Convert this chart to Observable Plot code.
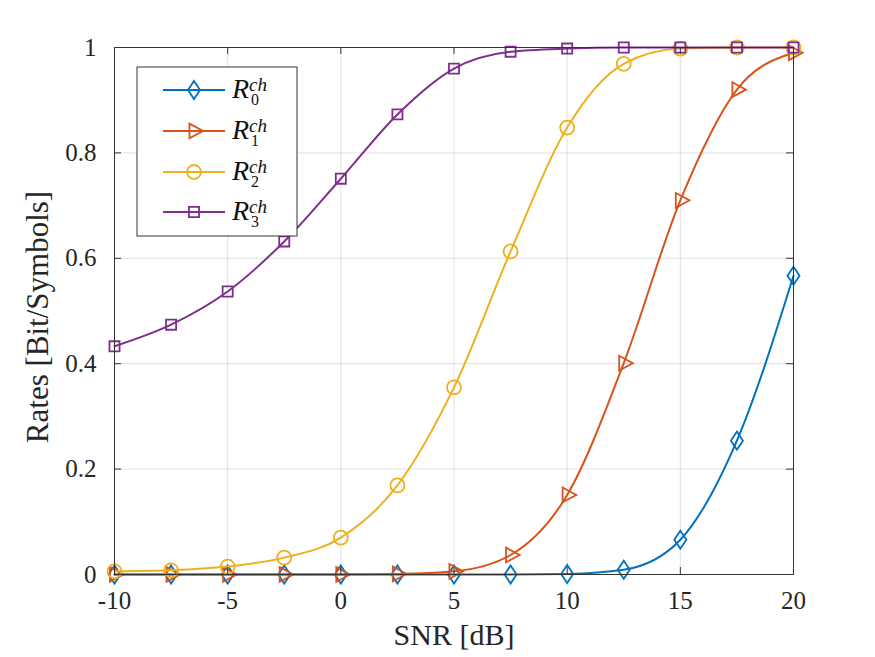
<!DOCTYPE html>
<html><head><meta charset="utf-8">
<script src="https://cdn.jsdelivr.net/npm/d3@7"></script>
<script src="https://cdn.jsdelivr.net/npm/@observablehq/plot@0.6"></script>
<style>body{margin:0;background:#fff}#chart{width:875px;height:657px}
#chart svg, #chart svg text{font-family:"Liberation Serif","Times New Roman",Times,"DejaVu Serif","Noto Serif",serif !important}</style>
</head><body><div id="chart"></div>
<script>
// ---- data ----
const snr = [-10, -7.5, -5, -2.5, 0, 2.5, 5, 7.5, 10, 12.5, 15, 17.5, 20];
const r0 = [0, 0, 0, 0, 0, 0, 0, 0, 0.001, 0.009, 0.066, 0.254, 0.567];
const r1 = [0, 0, 0, 0, 0, 0.001, 0.006, 0.037, 0.151, 0.401, 0.710, 0.920, 0.990];
const r2 = [0.006, 0.008, 0.015, 0.032, 0.070, 0.169, 0.355, 0.613, 0.848, 0.969, 0.998, 1, 1];
const r3 = [0.433, 0.474, 0.537, 0.632, 0.751, 0.873, 0.960, 0.992, 0.998, 1, 1, 1, 1];
const seriesSub = ["0", "1", "2", "3"];
const seriesSup = "ch";
const xTicks = [-10, -5, 0, 5, 10, 15, 20];
const yTicks = [0, 0.2, 0.4, 0.6, 0.8, 1];
const xLabel = "SNR [dB]";
const yLabel = "Rates [Bit/Symbols]";

// ---- styles ----
const colors = ["#0072BD", "#D95319", "#EDB120", "#7E2F8E"];
const font = "Liberation Serif, Times New Roman, Times, DejaVu Serif, serif";
const axisColor = "#333";
const W = 875, H = 657, mL = 114, mR = 82, mT = 47, mB = 83;
const innerW = W - mL - mR, innerH = H - mT - mB;
const tickLen = 7;

const rad = s => Math.sqrt(s / Math.PI);
const symDiamond = {draw(c, s) { const r = rad(s); c.moveTo(0, -1.29 * r); c.lineTo(0.86 * r, 0); c.lineTo(0, 1.29 * r); c.lineTo(-0.86 * r, 0); c.closePath(); }};
const symTriR = {draw(c, s) { const r = rad(s); c.moveTo(-0.65 * r, -1.05 * r); c.lineTo(1.3 * r, 0); c.lineTo(-0.65 * r, 1.05 * r); c.closePath(); }};
const symCircle = {draw(c, s) { const r = rad(s); c.moveTo(r, 0); c.arc(0, 0, r, 0, 2 * Math.PI); c.closePath(); }};
const symSquare = {draw(c, s) { const r = rad(s) * 0.72; c.rect(-r, -r, 2 * r, 2 * r); }};
const symbols = [symDiamond, symTriR, symCircle, symSquare];

const series = [r0, r1, r2, r3];
const rows = series.map((vals, i) => snr.map((x, j) => ({x, y: vals[j], s: i})));

const marks = [
  Plot.gridX(xTicks, {stroke: "#000", strokeOpacity: 0.12}),
  Plot.gridY(yTicks, {stroke: "#000", strokeOpacity: 0.12}),
];
rows.forEach((d, i) => {
  marks.push(Plot.line(d, {x: "x", y: "y", stroke: colors[i], strokeWidth: 2, curve: "monotone-x"}));
  marks.push(Plot.dot(d, {x: "x", y: "y", stroke: colors[i], fill: "none", strokeWidth: 1.8, r: 7, symbol: symbols[i]}));
});
marks.push(
  Plot.frame({stroke: axisColor, strokeWidth: 1}),
  Plot.ruleX(xTicks, {x: d => d, insetTop: innerH - tickLen, stroke: axisColor}),
  Plot.ruleX(xTicks, {x: d => d, insetBottom: innerH - tickLen, stroke: axisColor}),
  Plot.ruleY(yTicks, {y: d => d, insetRight: innerW - tickLen, stroke: axisColor}),
  Plot.ruleY(yTicks, {y: d => d, insetLeft: innerW - tickLen, stroke: axisColor}),
  Plot.axisX({ticks: xTicks, tickSize: 0, tickPadding: 17, tickFormat: d => String(d), label: null, fontSize: 25, fill: "#262626"}),
  Plot.axisY({ticks: yTicks, tickSize: 0, tickPadding: 18, tickFormat: d => String(d), label: null, fontSize: 25, fill: "#262626"}),
  Plot.text([xLabel], {frameAnchor: "bottom", textAnchor: "middle", dy: 61, lineAnchor: "middle", fontSize: 30, fill: "#262626"}),
  Plot.text([yLabel], {frameAnchor: "left", textAnchor: "middle", rotate: -90, dx: -76, dy: 6, lineAnchor: "middle", fontSize: 31, fill: "#262626"})
);

const chart = Plot.plot({
  width: W, height: H,
  marginLeft: mL, marginRight: mR, marginTop: mT, marginBottom: mB,
  x: {domain: [-10, 20]},
  y: {domain: [0, 1]},
  style: {fontFamily: font, background: "#fff", color: "#262626", overflow: "visible"},
  marks
});
document.getElementById("chart").appendChild(chart);

// ---- legend ----
const svg = d3.select(chart);
const lg = svg.append("g").attr("transform", "translate(137,67)").attr("text-anchor", "start");
lg.append("rect").attr("width", 160).attr("height", 169).attr("fill", "#fff").attr("stroke", axisColor).attr("stroke-width", 1);
const rowY = [23, 64, 105, 145];
seriesSub.forEach((sub, i) => {
  const y = rowY[i];
  lg.append("line").attr("x1", 26).attr("x2", 88).attr("y1", y).attr("y2", y).attr("stroke", colors[i]).attr("stroke-width", 2);
  lg.append("path").attr("transform", `translate(57,${y})`).attr("d", d3.symbol(symbols[i], Math.PI * 49)())
    .attr("fill", "none").attr("stroke", colors[i]).attr("stroke-width", 1.8);
  const t = lg.append("text").attr("x", 95).attr("y", y + 8).attr("fill", "#111");
  t.append("tspan").attr("font-style", "italic").attr("font-size", 28).text("R");
  t.append("tspan").attr("font-style", "italic").attr("font-size", 19).attr("dy", -7).text(seriesSup);
  t.append("tspan").attr("x", 114).attr("y", y + 15).attr("font-size", 16).text(sub);
});
</script></body></html>
